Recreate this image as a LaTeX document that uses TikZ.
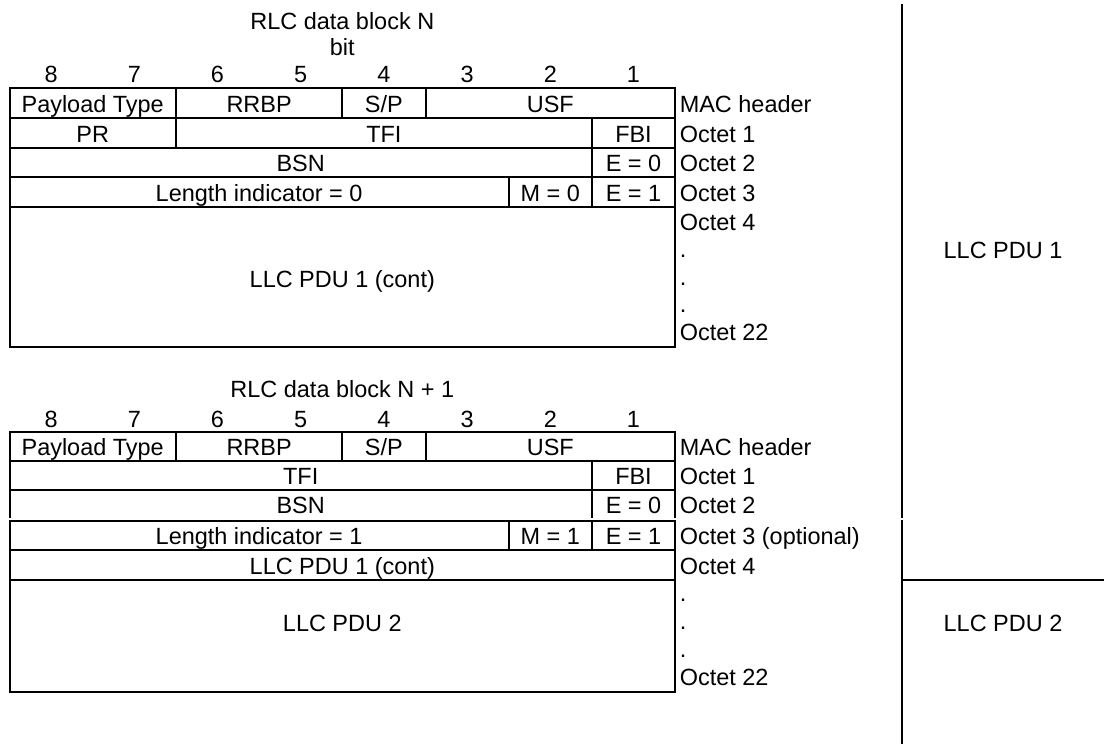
\documentclass[tikz,border=0pt]{standalone}
\usepackage{fontspec}
\setmainfont{Liberation Sans}
\begin{document}
\begin{tikzpicture}[x=0.75pt,y=-0.75pt,
  tbl/.style={line width=1.5pt},
  txt/.style={inner sep=0pt,text height=12.6pt,text depth=0pt,font=\fontsize{17.6pt}{20.5pt}\selectfont},
  lbl/.style={txt,anchor=west}]
\useasboundingbox (0,0) rectangle (1104,744);
% ---------- Table 1 ----------
\draw[tbl] (9.5,88) rectangle (675.1,347);
\foreach \yy in {118,148,177,207} \draw[tbl] (9.5,\yy) -- (675.1,\yy);
\foreach \xx in {175.9,342.3,425.5} \draw[tbl] (\xx,88) -- (\xx,118);
\foreach \xx in {175.9,591.9} \draw[tbl] (\xx,118) -- (\xx,148);
\draw[tbl] (591.9,148) -- (591.9,177);
\foreach \xx in {508.7,591.9} \draw[tbl] (\xx,177) -- (\xx,207);
\node[txt] (t1title) at (342.3,21) {RLC data block N};
\node[txt] (t1bit) at (342.3,47) {bit};
\foreach \n/\xx in {8/51.1,7/134.3,6/217.5,5/300.7,4/383.9,3/467.1,2/550.3,1/633.5}
  \node[txt] (t1b\n) at (\xx,74) {\n};
\node[txt] (a1) at (92.7,104) {Payload Type};
\node[txt] (a2) at (259.1,104) {RRBP};
\node[txt] (a3) at (383.9,104) {S/P};
\node[txt] (a4) at (550.3,104) {USF};
\node[txt] (a5) at (92.7,134) {PR};
\node[txt] (a6) at (383.9,134) {TFI};
\node[txt] (a7) at (633.5,134) {FBI};
\node[txt] (a8) at (300.7,163.5) {BSN};
\node[txt] (a9) at (633.5,163.5) {E = 0};
\node[txt] (a10) at (259.1,193) {Length indicator = 0};
\node[txt] (a11) at (550.3,193) {M = 0};
\node[txt] (a12) at (633.5,193) {E = 1};
\node[txt] (a13) at (342.3,279) {LLC PDU 1 (cont)};
\node[lbl] (o1) at (679.5,104) {MAC header};
\node[lbl] (o2) at (679.5,134) {Octet 1};
\node[lbl] (o3) at (679.5,163.5) {Octet 2};
\node[lbl] (o4) at (679.5,193) {Octet 3};
\node[lbl] (o5) at (679.5,222) {Octet 4};
\node[lbl] (o6) at (679.5,249.5) {.};
\node[lbl] (o7) at (679.5,277) {.};
\node[lbl] (o8) at (679.5,304.5) {.};
\node[lbl] (o9) at (679.5,332) {Octet 22};
% ---------- Table 2 ----------
\draw[tbl] (9.5,518) -- (9.5,432) -- (675.1,432) -- (675.1,518);
\foreach \yy in {461,490} \draw[tbl] (9.5,\yy) -- (675.1,\yy);
\foreach \xx in {175.9,342.3,425.5} \draw[tbl] (\xx,432) -- (\xx,461);
\draw[tbl] (591.9,461) -- (591.9,518);
\draw[tbl] (9.5,521) rectangle (675.1,692);
\foreach \yy in {550,580} \draw[tbl] (9.5,\yy) -- (675.1,\yy);
\foreach \xx in {508.7,591.9} \draw[tbl] (\xx,521) -- (\xx,550);
\node[txt] (t2title) at (342.3,389) {RLC data block N + 1};
\foreach \n/\xx in {8/51.1,7/134.3,6/217.5,5/300.7,4/383.9,3/467.1,2/550.3,1/633.5}
  \node[txt] (t2b\n) at (\xx,419) {\n};
\node[txt] (b1) at (92.7,447.5) {Payload Type};
\node[txt] (b2) at (259.1,447.5) {RRBP};
\node[txt] (b3) at (383.9,447.5) {S/P};
\node[txt] (b4) at (550.3,447.5) {USF};
\node[txt] (b5) at (300.7,476.5) {TFI};
\node[txt] (b6) at (633.5,476.5) {FBI};
\node[txt] (b7) at (300.7,505.5) {BSN};
\node[txt] (b8) at (633.5,505.5) {E = 0};
\node[txt] (b9) at (259.1,536.5) {Length indicator = 1};
\node[txt] (b10) at (550.3,536.5) {M = 1};
\node[txt] (b11) at (633.5,536.5) {E = 1};
\node[txt] (b12) at (342.3,566) {LLC PDU 1 (cont)};
\node[txt] (b13) at (342.3,623.5) {LLC PDU 2};
\node[lbl] (p1) at (679.5,447.5) {MAC header};
\node[lbl] (p2) at (679.5,476.5) {Octet 1};
\node[lbl] (p3) at (679.5,505.5) {Octet 2};
\node[lbl] (p4) at (679.5,536.5) {Octet 3 (optional)};
\node[lbl] (p5) at (679.5,566) {Octet 4};
\node[lbl] (p6) at (679.5,593) {.};
\node[lbl] (p7) at (679.5,621) {.};
\node[lbl] (p8) at (679.5,649) {.};
\node[lbl] (p9) at (679.5,677) {Octet 22};
% ---------- Right column ----------
\coordinate (v1) at (902,4);
\coordinate (v2) at (902,518);
\coordinate (v3) at (902,520);
\coordinate (v4) at (902,744);
\coordinate (h1) at (902,580);
\coordinate (h2) at (1104,580);
\draw[tbl] (v1) -- (v2);
\draw[tbl] (v3) -- (v4);
\draw[tbl] (h1) -- (h2);
\node[txt] (r1) at (1003,250) {LLC PDU 1};
\node[txt] (r2) at (1003,623.5) {LLC PDU 2};
\end{tikzpicture}
\end{document}
